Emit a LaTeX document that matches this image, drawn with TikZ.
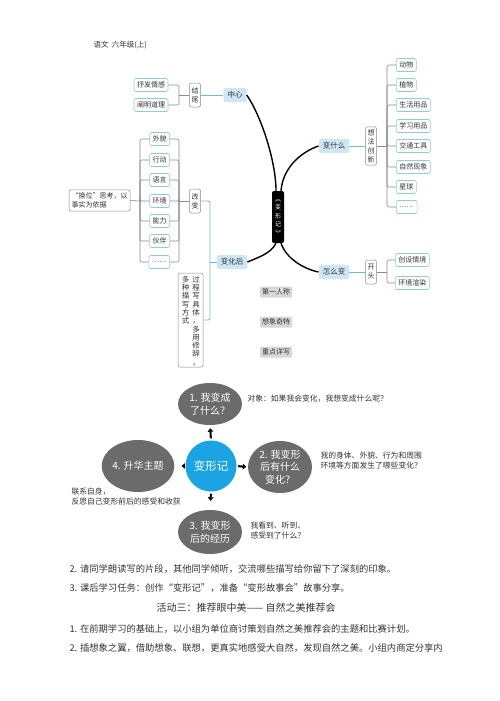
\documentclass[tikz,border=0pt]{standalone}
\usepackage{fontspec}
\setmainfont{Noto Sans CJK SC}
\usetikzlibrary{arrows.meta,shapes.geometric}
\definecolor{kblue}{HTML}{CDE8F4}
\definecolor{tealb}{HTML}{8CCFD9}
\definecolor{tline}{HTML}{6CC0CE}
\definecolor{gline}{HTML}{8A8A8A}
\definecolor{glab}{HTML}{D8D8D8}
\definecolor{ell}{HTML}{6B6B6B}
\definecolor{cblue}{HTML}{1CA3E3}
\definecolor{txt}{HTML}{333333}
\newcommand\myfs[2]{\fontsize{#1}{#2}\selectfont}
\tikzset{
 leaf/.style={draw=tealb, line width=0.6, fill=white, rounded corners=1.5, inner xsep=3, inner ysep=1.5, minimum height=13, font=\myfs{7}{8}, text=txt},
 key/.style={fill=kblue, rounded corners=1.5, inner xsep=4, inner ysep=2, minimum height=14, font=\myfs{7.5}{9}, text=txt},
 vbox/.style={draw=gline, line width=0.5, fill=white, rounded corners=2, align=center, inner xsep=2, inner ysep=2.5, font=\myfs{7}{9}, text=txt},
 vcol/.style={align=center, inner sep=0, anchor=north, font=\myfs{7.5}{8.3}, text=txt},
 glabel/.style={fill=glab, rounded corners=1, inner xsep=2, inner ysep=1.5, minimum height=11, font=\myfs{7}{8}, text=txt},
 gl/.style={draw=gline, line width=0.6, rounded corners=2},
 tl/.style={draw=tline, line width=0.8},
 curve/.style={draw=black, line width=1.4},
 ellnode/.style={ellipse, fill=ell, text=white, align=center, font=\myfs{10}{12.5}, inner sep=0},
 ann/.style={font=\myfs{7.8}{10}, text=txt, align=left, anchor=west},
 body/.style={font=\myfs{9.3}{11}, text=txt, anchor=west},
 arr/.style={-{Triangle[length=3.5,width=5.5]}, line width=2, draw=black}
}
\begin{document}
\begin{tikzpicture}[x=1pt,y=-1pt]
\useasboundingbox (0,0) rectangle (500,701);
\fill[white] (0,0) rectangle (500,701);

\node[anchor=west, font=\myfs{7.5}{9}, text=txt] (hdr) at (90,45) {语文\ \ 六年级(上)};

% ---------- mind map ----------
\node[fill=black, rounded corners=2, text=white, align=center, font=\myfs{6}{8.5}, minimum width=12, minimum height=52, inner sep=1] (bxj) at (278,217) {︽\\变\\形\\记\\︾};

\node[key] (zx) at (235,95) {中心};
\node[vbox, minimum height=24] (jw) at (195,95) {结\\尾};
\node[leaf] (sf) at (151,85) {抒发情感};
\node[leaf] (cm) at (151,105) {阐明道理};
\coordinate (s0) at (179,95);
\draw[tl] (zx.west) -- (jw.east);
\draw[gl] (jw.west) -- (s0);
\draw[gl] (sf.east) -| (s0);
\draw[gl] (cm.east) -| (s0);

\node[key] (bsm) at (334,146) {变什么};
\node[vbox, minimum height=38] (xf) at (371,146) {想\\法\\创\\新};
\coordinate (s1) at (387,146);
\draw[tl] (bsm.east) -- (xf.west);
\draw[gl] (xf.east) -- (s1);
\foreach \t/\y/\n in {动物/65/r1,植物/85/r2,生活用品/105/r3,学习用品/126/r4,交通工具/146/r5,自然现象/167/r6,星球/187/r7,……/207/r8}{
  \node[leaf, anchor=west] (\n) at (396,\y) {\t};
  \draw[gl] (\n.west) -| (s1);
}

\node[key] (zmb) at (334,272) {怎么变};
\node[vbox, minimum height=24] (kt) at (371,272) {开\\头};
\coordinate (s5) at (387,272);
\draw[tl] (zmb.east) -- (kt.west);
\draw[gl] (kt.east) -- (s5);
\node[leaf, anchor=west] (cs) at (395,260) {创设情境};
\node[leaf, anchor=west] (hx) at (395,283) {环境渲染};
\draw[gl] (cs.west) -| (s5);
\draw[gl] (hx.west) -| (s5);

\node[key] (bhh) at (232,262) {变化后};
\node[vbox, minimum height=24] (gb) at (195,201) {改\\变};
\node[draw=gline, line width=0.5, fill=white, rounded corners=2, minimum width=25, minimum height=94, inner sep=0] (proc) at (190.5,320) {};
\node[vcol] (pc1) at ([xshift=5.5,yshift=-3]proc.north) {过\\程\\写\\具\\体\\，\\多\\用\\修\\辞\\，};
\node[vcol] (pc2) at ([xshift=-5,yshift=-3]proc.north) {多\\种\\描\\写\\方\\式};
\coordinate (s4) at (210,262);
\draw[tl] (bhh.west) -- (s4);
\draw[tl, rounded corners=2] (gb.east) -| (s4);
\draw[tl, rounded corners=2] (proc.east) -| (s4);

\node[vbox, align=left, inner xsep=2.5, inner ysep=2.5, font=\myfs{7}{9.5}] (hw) at (99.5,200.5) {“换位”思考，以\\事实为依据};
\coordinate (s2) at (179,201);
\coordinate (s3) at (140,201);
\draw[gl] (gb.west) -- (s2);
\draw[gl] (hw.east) -- (s3);
\foreach \t/\y/\n in {外貌/139/l1,行动/160/l2,语言/180/l3,环境/201/l4,能力/221/l5,伙伴/241/l6,……/262/l7}{
  \node[leaf, anchor=east] (\n) at (170,\y) {\t};
  \draw[gl] (\n.east) -| (s2);
  \draw[gl] (\n.west) -| (s3);
}

\node[glabel] (g1) at (276,292) {第一人称};
\node[glabel] (g2) at (276,322) {想象奇特};
\node[glabel] (g3) at (276,352) {重点详写};

\draw[curve] (zx.east) .. controls +(14,20) and +(0,-30) .. ([xshift=-2]bxj.north);
\draw[curve] ([xshift=3]bxj.north) .. controls +(2,-25) and +(-15,5) .. (bsm.west);
\draw[curve] ([xshift=-2]bxj.south) .. controls +(-5,10) and +(12,-5) .. (bhh.east);
\draw[curve] ([xshift=3]bxj.south) .. controls +(5,15) and +(-15,-3) .. (zmb.west);

% ---------- bubble diagram ----------
\node[circle, fill=cblue, text=white, minimum size=51, inner sep=0, font=\myfs{11.5}{13}] (c) at (211,466) {变形记};
\node[ellnode, minimum width=64, minimum height=42] (e1) at (210,404) {1. 我变成\\了什么？};
\node[ellnode, minimum width=64, minimum height=52] (e2) at (280,467) {2. 我变形\\后有什么\\变化？};
\node[ellnode, minimum width=64, minimum height=44] (e3) at (210,532) {3. 我变形\\后的经历};
\node[ellnode, minimum width=61, minimum height=52] (e4) at (138,466) {4. 升华主题};
\draw[arr, shorten <=2, shorten >=3] (c.north) -- (e1.south);
\draw[arr, shorten <=1.5, shorten >=1.5] (c.east) -- (e2.west);
\draw[arr, shorten <=1.5, shorten >=7] (c.west) -- (e4.east);
\draw[arr, shorten <=2, shorten >=9] (c.south) -- (e3.north);

\node[ann] (a1) at (244,399) {对象：如果我会变化，我想变成什么呢？};
\node[ann] (a2) at (317,461) {我的身体、外貌、行为和周围\\环境等方面发生了哪些变化？};
\node[ann] (a3) at (247,531) {我看到、听到、\\感受到了什么？};
\node[ann] (a4) at (68,497) {联系自身，\\反思自己变形前后的感受和收获};

% ---------- body text ----------
\node[body] (t1) at (66,569) {2. 请同学朗读写的片段，其他同学倾听，交流哪些描写给你留下了深刻的印象。};
\node[body] (t2) at (66,588) {3. 课后学习任务：创作“变形记”，准备“变形故事会”故事分享。};
\node[font=\myfs{10}{12}, text=txt] (t3) at (246,608) {活动三：推荐眼中美—— 自然之美推荐会};
\node[body] (t4) at (66,629) {1. 在前期学习的基础上，以小组为单位商讨策划自然之美推荐会的主题和比赛计划。};
\node[body] (t5) at (66,648) {2. 插想象之翼，借助想象、联想，更真实地感受大自然，发现自然之美。小组内商定分享内};
\end{tikzpicture}
\end{document}
